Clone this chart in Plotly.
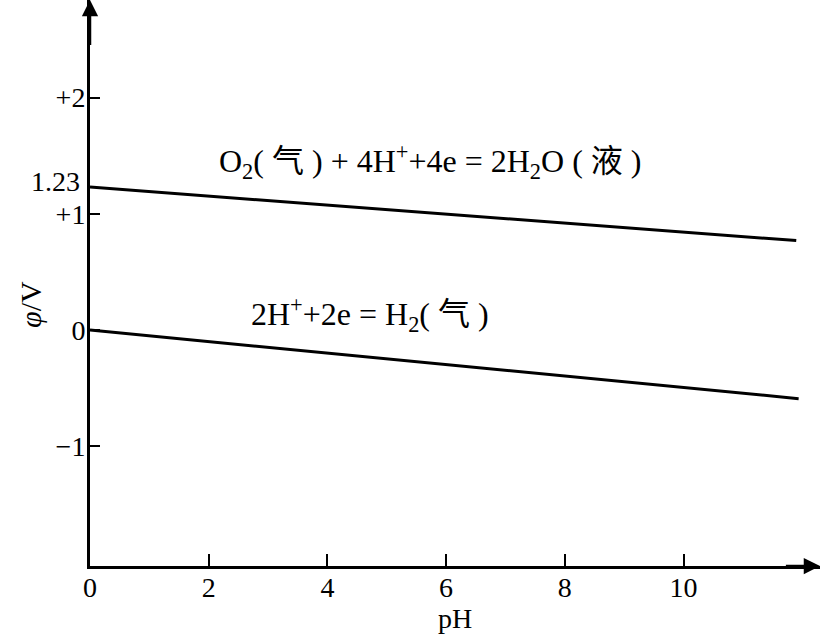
import plotly.graph_objects as go

# Data
ph_o2 = [0, 11.9]
phi_o2 = [1.23, 0.77]
ph_h2 = [0, 11.94]
phi_h2 = [0.0, -0.59]

x_tickvals = [0, 2, 4, 6, 8, 10]
x_ticktext = ["0", "2", "4", "6", "8", "10"]
y_tickvals = [-1, 0, 1, 2]
y_ticktext = ["\u22121", "0", "+1", "+2"]

label_o2 = "O<sub>2</sub>( 气 ) + 4H<sup>+</sup>+4e = 2H<sub>2</sub>O ( 液 )"
label_h2 = "2H<sup>+</sup>+2e = H<sub>2</sub>( 气 )"

FONT = "Liberation Serif, Times New Roman, Noto Sans CJK SC, serif"
XR = [0, 12.3]
YR = [-2.03, 2.84]

fig = go.Figure()
fig.add_trace(go.Scatter(x=ph_o2, y=phi_o2, mode="lines",
                         line=dict(color="black", width=3), showlegend=False,
                         hoverinfo="skip"))
fig.add_trace(go.Scatter(x=ph_h2, y=phi_h2, mode="lines",
                         line=dict(color="black", width=3), showlegend=False,
                         hoverinfo="skip"))

fig.update_layout(
    width=821, height=638,
    margin=dict(l=90, r=1, t=0, b=72),
    paper_bgcolor="white", plot_bgcolor="white",
    font=dict(family=FONT, size=28, color="black"),
    showlegend=False,
    xaxis=dict(range=XR, showgrid=False, zeroline=False, showline=True,
               linecolor="black", linewidth=3, ticks="inside", ticklen=12,
               tickwidth=2, tickcolor="black", tickvals=x_tickvals,
               ticktext=x_ticktext, tickfont=dict(size=28, family=FONT),
               ticklabelstandoff=-6,
               title=dict(text="pH", font=dict(size=28, family=FONT), standoff=2),
               automargin=False),
    yaxis=dict(range=YR, showgrid=False, zeroline=False, showline=True,
               linecolor="black", linewidth=3, ticks="inside", ticklen=10,
               tickwidth=2, tickcolor="black", tickvals=y_tickvals,
               ticktext=y_ticktext, tickfont=dict(size=28, family=FONT),
               ticklabelstandoff=-4,
               automargin=False),
)

# axis arrows
fig.add_annotation(x=XR[1], y=YR[0], ax=XR[1] - 0.6, ay=YR[0], xref="x", yref="y",
                   axref="x", ayref="y", text="", showarrow=True, arrowhead=2,
                   arrowsize=1.3, arrowwidth=2.5, arrowcolor="black")
fig.add_annotation(x=0, y=YR[1], ax=0, ay=YR[1] - 0.4, xref="x", yref="y",
                   axref="x", ayref="y", text="", showarrow=True, arrowhead=2,
                   arrowsize=1.3, arrowwidth=2.5, arrowcolor="black")

# 1.23 label
fig.add_annotation(x=0, y=1.28, xref="x", yref="y", text="1.23", showarrow=False,
                   xanchor="right", xshift=-8, font=dict(size=28, family=FONT))

# y-axis title
fig.add_annotation(x=-0.107, y=0.22, xref="paper", yref="y", text="<i>φ</i>/V",
                   textangle=-90, showarrow=False, font=dict(size=30, family=FONT))

# line labels
fig.add_annotation(x=5.73, y=1.45, xref="x", yref="y", text=label_o2,
                   showarrow=False, font=dict(size=32, family=FONT))
fig.add_annotation(x=4.72, y=0.13, xref="x", yref="y", text=label_h2,
                   showarrow=False, font=dict(size=32, family=FONT))

fig.write_html("out.html", config={"displayModeBar": False},
               post_script="document.body.style.margin='0';")
